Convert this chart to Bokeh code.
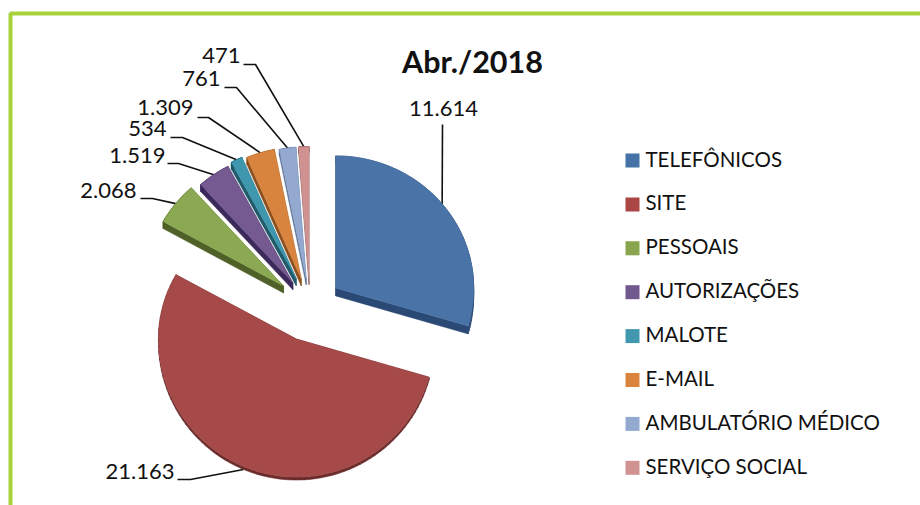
import numpy as np
from bokeh.embed import file_html
from bokeh.resources import INLINE
from bokeh.plotting import figure
from bokeh.models import Range1d
from bokeh.core.properties import value

# ---------- data ----------
title = "Abr./2018"
categories = ["TELEFÔNICOS", "SITE", "PESSOAIS", "AUTORIZAÇÕES", "MALOTE", "E-MAIL",
              "AMBULATÓRIO MÉDICO", "SERVIÇO SOCIAL"]
values = [11614, 21163, 2068, 1519, 534, 1309, 761, 471]
value_labels = ["11.614", "21.163", "2.068", "1.519", "534", "1.309", "761", "471"]

# ---------- styles and layout ----------
top_colors = ["#4A74A8", "#A54A48", "#8BA852", "#745A90", "#3F97AE", "#D8843F", "#93A9CF", "#CF9291"]
side_colors = ["#2A4A75", "#6A2A2A", "#4F6128", "#3C2A5A", "#215A6A", "#8A5020", "#5A6F95", "#8A5A5A"]
legend_colors = ["#4572A7", "#AA4643", "#89A54E", "#71588F", "#4198AF", "#DB843D", "#93A9CF", "#D19392"]
explode = [32, 35.5, 34, 30, 32, 30, 29, 29]
depth = [8, 3, 7, 7, 7, 7, 6, 6]
CX, CY = 309.6, 305.8
RX, RY_BACK, RY_FRONT = 138, 132, 138
label_x = [443, 174, 136, 165, 166, 193, 220, 240]
label_y = [108, 471, 190, 155, 128, 107, 78, 55]
label_align = ["center", "right", "right", "right", "right", "right", "right", "right"]
lead_start_x = [442, 177, 140, 167, 170, 197, 224, 243]
lead_start_y = [124, 479, 198, 163, 137, 117, 87, 64]
lead_elbow_x = [442, 190, 152, 178, 182, 208, 236, 255]
lead_angle_shift = [-2.5, 0, 0, 0, 0, 0, 0, 0]

W, H = 920, 505
p = figure(width=W, height=H, x_range=Range1d(0, W), y_range=Range1d(H, 0),
           output_backend="svg", toolbar_location=None, min_border=0)
p.axis.visible = False
p.grid.visible = False
p.outline_line_color = None
p.background_fill_color = "white"


def project(a_deg, cx, cy):
    a = np.radians(a_deg)
    c = np.cos(a)
    ry = np.where(c > 0, RY_BACK, RY_FRONT)
    return cx + RX * np.sin(a), cy - ry * c


fractions = np.array(values) / sum(values)
ends = np.cumsum(fractions) * 360
starts = ends - fractions * 360
mids = (starts + ends) / 2

tops_x, tops_y = [], []
for i in range(len(values)):
    m = np.radians(mids[i])
    ry = RY_BACK if np.cos(m) > 0 else RY_FRONT
    cx = CX + explode[i] * np.sin(m)
    cy = CY - explode[i] * np.cos(m) * ry / RX
    arc = np.linspace(starts[i], ends[i], 80)
    ax, ay = project(arc, cx, cy)
    tops_x.append(np.concatenate([[cx], ax]).tolist())
    tops_y.append(np.concatenate([[cy], ay]).tolist())
    rx_mid, ry_mid = project(np.array(mids[i] + lead_angle_shift[i]), cx, cy)
    d_end = depth[i] if np.cos(m) < 0 else 0
    p.line([lead_start_x[i], lead_elbow_x[i], float(rx_mid)],
           [lead_start_y[i], lead_start_y[i], float(ry_mid) + d_end],
           line_color="#111111", line_width=1.6)

# extruded sides: quads between each outline segment and its shifted copy
for i in range(len(values)):
    xs, ys = np.array(tops_x[i] + [tops_x[i][0]]), np.array(tops_y[i] + [tops_y[i][0]])
    for k in range(len(xs) - 1):
        p.patch([xs[k], xs[k + 1], xs[k + 1], xs[k]],
                [ys[k], ys[k + 1], ys[k + 1] + depth[i], ys[k] + depth[i]],
                fill_color=side_colors[i], line_color=side_colors[i], line_width=0.5)

p.patches(tops_x, tops_y, fill_color=top_colors, line_color=top_colors, line_width=0.5)

# value labels
for i in range(len(values)):
    p.text([label_x[i]], [label_y[i]], text=[value_labels[i]], text_align=label_align[i],
           text_baseline="middle", text_font=value("Lato"), text_font_size="22px", text_color="#111111")

# title
p.text([472], [60], text=[title], text_align="center", text_baseline="middle",
       text_font=value("Lato"), text_font_size="30.5px", text_font_style="bold", text_color="#111111")

# legend
leg_y = [160 + i * 43.9 for i in range(len(categories))]
p.rect([632] * len(categories), leg_y, width=14, height=14, fill_color=legend_colors, line_color=None)
p.text([645] * len(categories), [y - 2 for y in leg_y], text=categories, text_align="left", text_baseline="middle",
       text_font=value("Lato"), text_font_size="20.5px", text_color="#111111")

# frame
p.line([10, 10, W], [H, 13, 13], line_color="#A9D13C", line_width=4)

open("out.html", "w").write(file_html(p, INLINE))
